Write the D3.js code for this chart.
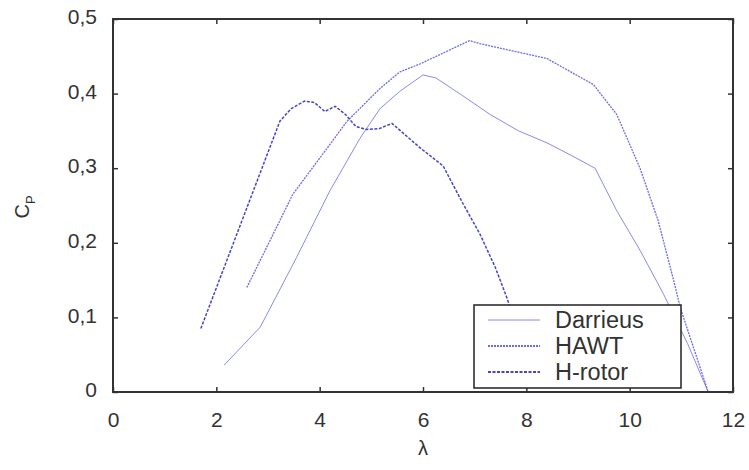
<!DOCTYPE html>
<html>
<head>
<meta charset="utf-8">
<script src="https://cdn.jsdelivr.net/npm/d3@7"></script>
<style>
  body { margin: 0; background: #fff; }
  text { font-family: "Liberation Sans", Arial, sans-serif; fill: #333; }
</style>
</head>
<body>
<div id="chart"></div>
<script>
// values
const darrieusL = [2.15, 2.85, 3.55, 4.2, 4.78, 5.17, 5.55, 6.0, 6.25, 6.75, 7.3, 7.85, 8.4, 8.9, 9.33, 9.75, 10.2, 10.65, 11.12, 11.52];
const darrieusCp = [0.036, 0.087, 0.18, 0.27, 0.34, 0.38, 0.403, 0.425, 0.421, 0.398, 0.372, 0.35, 0.334, 0.316, 0.3, 0.243, 0.19, 0.132, 0.065, 0];

const hawtL = [2.59, 3.48, 4.2, 4.53, 5.17, 5.55, 5.95, 6.9, 7.1, 8.4, 9.3, 9.75, 10.2, 10.55, 10.85, 10.98, 11.52];
const hawtCp = [0.14, 0.265, 0.332, 0.363, 0.407, 0.429, 0.44, 0.471, 0.467, 0.447, 0.412, 0.372, 0.3, 0.23, 0.15, 0.113, 0];

const hrotorL = [1.7, 3.23, 3.45, 3.71, 3.9, 4.1, 4.3, 4.5, 4.7, 4.9, 5.15, 5.4, 5.95, 6.39, 6.77, 7.1, 7.4, 7.62, 7.8];
const hrotorCp = [0.085, 0.363, 0.38, 0.39, 0.388, 0.376, 0.383, 0.372, 0.356, 0.352, 0.353, 0.36, 0.327, 0.303, 0.253, 0.212, 0.167, 0.127, 0.09];

const xTicks = [0, 2, 4, 6, 8, 10, 12];
const yTicks = [0, 0.1, 0.2, 0.3, 0.4, 0.5];
const seriesNames = ["Darrieus", "HAWT", "H-rotor"];

const W = 749, H = 470;
const m = { left: 113, right: 733, top: 19, bottom: 392 };

const svg = d3.select("#chart").append("svg")
  .attr("width", W).attr("height", H);

const x = d3.scaleLinear().domain([0, 12]).range([m.left, m.right]);
const y = d3.scaleLinear().domain([0, 0.5]).range([m.bottom, m.top]);

const fmt = d => String(d).replace(".", ",");

// curves
const line = d3.line().x(d => x(d[0])).y(d => y(d[1]));
const styles = [
  { stroke: "#8a8aea", width: 1, dash: null },
  { stroke: "#6c6ce4", width: 1.3, dash: "2,1" },
  { stroke: "#4646c4", width: 1.5, dash: "3,1.5" }
];
const series = [
  d3.zip(darrieusL, darrieusCp),
  d3.zip(hawtL, hawtCp),
  d3.zip(hrotorL, hrotorCp)
];
series.forEach((s, i) => {
  svg.append("path")
    .attr("d", line(s))
    .attr("fill", "none")
    .attr("stroke", styles[i].stroke)
    .attr("stroke-width", styles[i].width)
    .attr("stroke-dasharray", styles[i].dash);
});

// axes, ticks inward on every side
const tl = 5;
svg.append("g").attr("transform", `translate(0,${m.bottom})`)
  .call(d3.axisBottom(x).tickValues(xTicks).tickSizeInner(-tl).tickSizeOuter(0).tickPadding(20))
  .call(g => g.select(".domain").remove());
svg.append("g").attr("transform", `translate(0,${m.top})`)
  .call(d3.axisTop(x).tickValues(xTicks).tickSizeInner(-tl).tickSizeOuter(0).tickFormat(""))
  .call(g => g.select(".domain").remove());
svg.append("g").attr("transform", `translate(${m.left},0)`)
  .call(d3.axisLeft(y).tickValues(yTicks).tickSizeInner(-tl).tickSizeOuter(0).tickPadding(16).tickFormat(fmt))
  .call(g => g.select(".domain").remove())
  .call(g => g.selectAll(".tick text").attr("dy", "0.22em"));
svg.append("g").attr("transform", `translate(${m.right},0)`)
  .call(d3.axisRight(y).tickValues(yTicks).tickSizeInner(-tl).tickSizeOuter(0).tickFormat(""))
  .call(g => g.select(".domain").remove());

svg.selectAll(".tick line").attr("stroke", "#333").attr("stroke-width", 1.5);
svg.selectAll(".tick text").attr("font-size", 21).attr("fill", "#333")
  .style("font-family", "'Liberation Sans', Arial, sans-serif");

svg.append("rect")
  .attr("x", m.left).attr("y", m.top)
  .attr("width", m.right - m.left).attr("height", m.bottom - m.top)
  .attr("fill", "none").attr("stroke", "#333").attr("stroke-width", 2);

// axis titles
svg.append("text")
  .attr("x", x(6)).attr("y", 455)
  .attr("text-anchor", "middle").attr("font-size", 20).text("λ");

const yl = svg.append("text")
  .attr("transform", `translate(29,207) rotate(-90)`)
  .attr("text-anchor", "middle").attr("font-size", 20);
yl.append("tspan").text("C");
yl.append("tspan").attr("font-size", 13).attr("dy", 6).text("P");

// legend
const lg = svg.append("g");
lg.append("rect")
  .attr("x", 474).attr("y", 305).attr("width", 207).attr("height", 83)
  .attr("fill", "#fff").attr("stroke", "#222").attr("stroke-width", 1.5);
seriesNames.forEach((n, i) => {
  const cy = 320 + i * 26;
  lg.append("line")
    .attr("x1", 488).attr("x2", 540).attr("y1", cy).attr("y2", cy)
    .attr("stroke", styles[i].stroke)
    .attr("stroke-width", styles[i].width + (i ? 0.6 : 0))
    .attr("stroke-dasharray", styles[i].dash);
  lg.append("text")
    .attr("x", 555).attr("y", cy + 8)
    .attr("font-size", 23.5).attr("fill", "#222").text(n);
});
</script>
</body>
</html>
